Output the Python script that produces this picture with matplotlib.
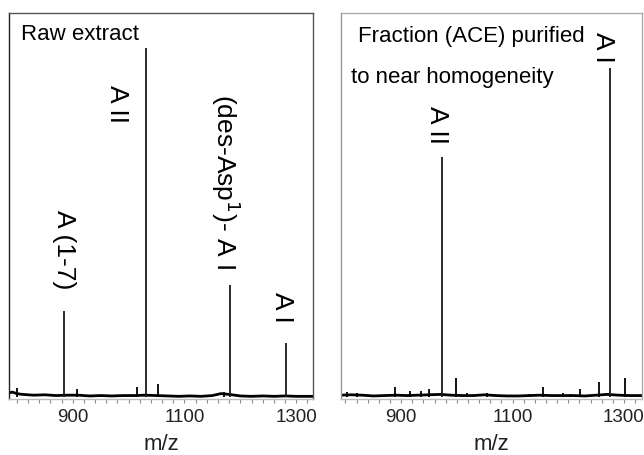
import numpy as np
import matplotlib
matplotlib.use('Agg')
import matplotlib.pyplot as plt

plt.rcParams['font.family'] = ['Liberation Sans', 'DejaVu Sans']

# left panel: raw extract
raw_peak_mz = [884, 1031, 1181, 1281]
raw_peak_int = [22.8, 90.9, 29.5, 14.5]
raw_small_mz = [800, 907, 1015, 1052, 1170]
raw_small_int = [2.8, 2.5, 3.0, 4.0, 1.8]
raw_base_mz = [786, 792, 800, 810, 830, 850, 870, 890, 910, 930, 950, 970, 990,
               1010, 1030, 1050, 1070, 1090, 1110, 1130, 1150, 1165, 1180, 1200,
               1220, 1240, 1260, 1280, 1300, 1330]
raw_base_int = [1.6, 1.8, 1.4, 1.2, 1.0, 1.1, 0.9, 1.0, 1.0, 0.8, 0.9, 0.8, 0.9,
                0.9, 1.0, 0.9, 0.8, 0.7, 0.8, 0.7, 0.9, 1.4, 1.2, 0.8,
                0.7, 0.8, 0.7, 0.8, 0.7, 0.7]

# right panel: ACE fraction
ace_peak_mz = [973, 1275]
ace_peak_int = [62.7, 85.8]
ace_small_mz = [803, 820, 889, 916, 935, 950, 999, 1018, 1055, 1130, 1154, 1190,
                1205, 1221, 1255, 1302]
ace_small_int = [1.8, 1.5, 3.0, 2.0, 2.0, 2.5, 5.5, 1.5, 1.6, 1.3, 3.0, 1.5,
                 1.3, 2.5, 4.5, 5.5]
ace_base_mz = [792, 810, 830, 850, 870, 890, 910, 930, 950, 970, 990, 1010, 1030,
               1050, 1070, 1090, 1110, 1130, 1150, 1170, 1190, 1210, 1230, 1250,
               1270, 1290, 1310, 1332]
ace_base_int = [1.0, 1.1, 1.0, 0.8, 0.9, 1.0, 0.9, 1.0, 1.1, 1.2, 1.0, 0.9, 0.9,
                1.1, 0.9, 0.8, 0.8, 0.9, 1.0, 0.9, 0.9, 0.9, 0.8, 1.0,
                1.2, 1.0, 0.9, 0.9]

xticks = [900, 1100, 1300]


def draw_panel(ax, peak_mz, peak_int, small_mz, small_int, base_mz, base_int,
               xlim, box_color, left_color):
    ax.plot(base_mz, base_int, '-', color='black', linewidth=2.0)
    ax.vlines(small_mz, 0.6, small_int, color='black', linewidth=1.3)
    ax.vlines(peak_mz, 0.6, peak_int, color='#1a1a1a', linewidth=1.3)
    ax.set_xlim(xlim)
    ax.set_ylim(0, 100)
    ax.set_yticks([])
    ax.set_xticks(xticks)
    ax.set_xticks(np.arange(800, 1331, 20), minor=True)
    ax.tick_params(axis='x', which='both', length=3, width=0.8, color='#888888',
                   labelsize=13.5, pad=4, labelcolor='#222222')
    for s in ['top', 'right', 'bottom']:
        ax.spines[s].set_color(box_color)
        ax.spines[s].set_linewidth(1.0)
    ax.spines['bottom'].set_color('#bbbbbb')
    ax.spines['left'].set_color(left_color)
    ax.spines['left'].set_linewidth(1.0)
    ax.set_xlabel('m/z', fontsize=16, labelpad=6, color='#222222')


fig = plt.figure(figsize=(6.44, 4.55), dpi=100)
ax1 = fig.add_axes([0.014, 0.123, 0.472, 0.848])
ax2 = fig.add_axes([0.5295, 0.123, 0.467, 0.848])

draw_panel(ax1, raw_peak_mz, raw_peak_int, raw_small_mz, raw_small_int,
           raw_base_mz, raw_base_int, (786, 1330), '#555555', '#222222')
draw_panel(ax2, ace_peak_mz, ace_peak_int, ace_small_mz, ace_small_int,
           ace_base_mz, ace_base_int, (792, 1332), '#aaaaaa', '#999999')

fs = 16
rs = 19
ax1.text(0.038, 0.945, 'Raw extract', transform=ax1.transAxes, fontsize=fs,
         ha='left', va='center')
ax1.text(979, 76.4, 'A II', rotation=270, fontsize=rs, ha='center', va='center')
ax1.text(884, 38.6, 'A (1-7)', rotation=270, fontsize=rs, ha='center', va='center')
ax1.text(1173, 56.5, '(des-Asp$^1$)- A I', rotation=270, fontsize=rs,
         ha='center', va='center')
ax1.text(1275, 23.8, 'A I', rotation=270, fontsize=rs, ha='center', va='center')

ax2.text(0.055, 0.94, 'Fraction (ACE) purified', transform=ax2.transAxes,
         fontsize=fs, ha='left', va='center')
ax2.text(0.033, 0.833, 'to near homogeneity', transform=ax2.transAxes,
         fontsize=fs, ha='left', va='center')
ax2.text(965, 71, 'A II', rotation=270, fontsize=rs, ha='center', va='center')
ax2.text(1262, 91.2, 'A I', rotation=270, fontsize=rs, ha='center', va='center')

fig.savefig('out.png', dpi=100)
